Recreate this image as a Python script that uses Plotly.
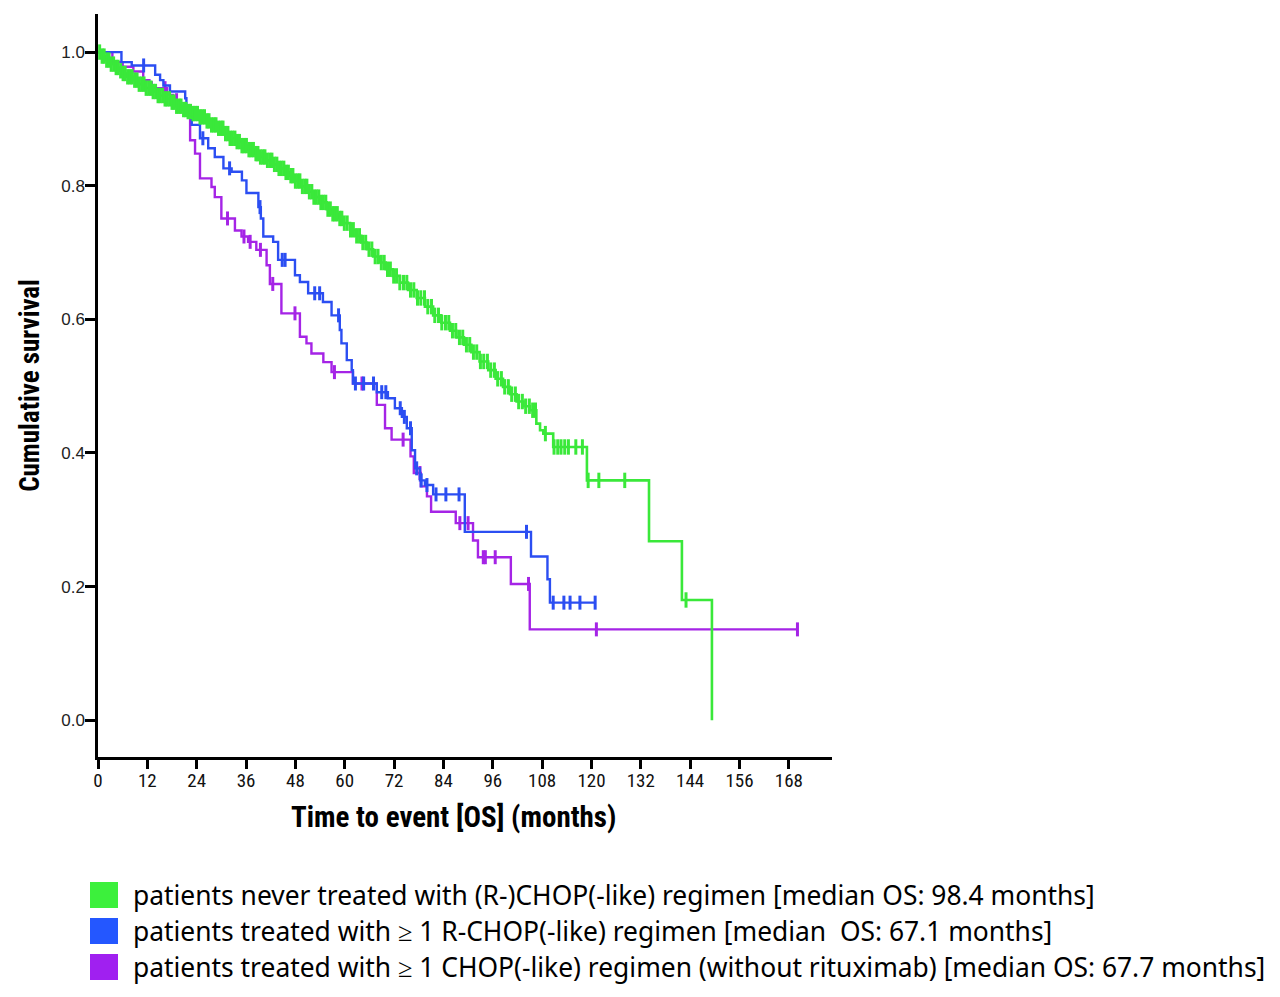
import numpy as np
import plotly.graph_objects as go

# ---------------- data ----------------
green_t = [1.0, 2.0, 3.0, 4.0, 5.0, 6.0, 7.0, 8.5, 10, 11.5, 13, 14.5, 16, 17.5, 19, 20.5, 21.6, 23, 24.5, 26,
           27.5, 29, 30.5, 32, 33.5, 35, 36.5, 38, 39.5, 41, 42.5, 44, 45.5, 46.7, 48, 49.5, 51, 52.5, 54, 55.6,
           57, 58.3, 59.6, 61.3, 62.6, 64, 65.4, 66.9, 68.4, 70, 71.7, 73.4, 75.4, 77.5, 79.5, 81.5, 83.5, 85.6,
           87.2, 89, 90.8, 92.8, 94.9, 96.7, 98.5, 100.2, 101.8, 103.5, 105, 106.6, 107.5, 108.3, 110.7, 118.9,
           134, 142, 149.3]
green_s = [0.994, 0.988, 0.982, 0.977, 0.972, 0.968, 0.963, 0.958, 0.952, 0.946, 0.941, 0.935, 0.930, 0.925,
           0.919, 0.914, 0.911, 0.908, 0.903, 0.897, 0.891, 0.886, 0.878, 0.871, 0.866, 0.860, 0.854, 0.848,
           0.843, 0.838, 0.832, 0.826, 0.820, 0.815, 0.807, 0.799, 0.791, 0.783, 0.775, 0.765, 0.758, 0.751,
           0.744, 0.734, 0.725, 0.715, 0.705, 0.694, 0.685, 0.675, 0.665, 0.655, 0.644, 0.632, 0.619, 0.606,
           0.595, 0.583, 0.573, 0.562, 0.551, 0.537, 0.524, 0.511, 0.499, 0.488, 0.477, 0.470, 0.464, 0.444,
           0.434, 0.429, 0.409, 0.359, 0.268, 0.180, 0.0]
green_end = 149.3
green_cens = [0.4, 1.0, 1.5, 2.1, 2.7, 3.2, 3.8, 4.4, 4.9, 5.5, 6.1, 6.6, 7.2, 7.8, 8.3, 8.9, 9.5, 10.0, 10.6,
              11.2, 11.7, 12.3, 12.9, 13.4, 14.0, 14.6, 15.1, 15.7, 16.3, 16.8, 17.4, 18.0, 18.5, 19.1, 19.7,
              20.2, 20.8, 21.4, 21.9, 22.5, 23.1, 23.6, 24.2, 24.8, 25.3, 25.9, 26.5, 27.0, 27.6, 28.2, 28.7,
              29.3, 29.9, 30.4, 31.0, 31.6, 32.1, 32.7, 33.3, 33.8, 34.4, 35.0, 35.5, 36.1, 36.7, 37.2, 37.8,
              38.4, 38.9, 39.5, 40.1, 40.6, 41.2, 41.8, 42.3, 42.9, 43.5, 44.0, 44.6, 45.2, 45.7, 46.3, 46.9,
              47.4, 48.0, 48.6, 49.1, 49.7, 50.3, 50.8, 51.4, 52.0, 52.5, 53.1, 53.7, 54.2, 54.8, 55.4, 55.9,
              56.5, 57.1, 57.6, 58.2, 58.8, 59.3, 59.9, 60.6, 61.4, 62.1, 62.9, 63.6, 64.4, 65.1, 65.9, 66.6,
              67.4, 68.1, 68.9, 69.6, 70.4, 71.1, 71.9, 72.6, 73.4, 74.3, 75.1, 76.0, 76.8, 77.7, 78.5, 79.4,
              80.2, 81.1, 81.9, 82.8, 83.6, 84.5, 85.3, 86.2, 87.0, 87.9, 88.7, 89.6, 90.4, 91.3, 92.1, 93.0,
              93.8, 94.7, 95.5, 96.4, 97.2, 98.1, 98.9, 99.8, 100.6, 101.5, 102.3, 103.2, 104.0, 104.9, 105.7,
              106.4, 108.8, 110.9, 111.8, 112.6, 113.5, 114.4, 116.2, 117.8, 119.2, 121.8, 128.1, 143.0]

blue_t = [5.7, 8.2, 13.9, 15.1, 15.9, 17.5, 21.2, 21.5, 22.8, 24.8, 26.8, 28.4, 30.5, 32.5, 35.0, 36.1, 39.0,
          39.6, 40.2, 42.6, 43.8, 47.9, 49.1, 51.1, 54.7, 56.8, 58.8, 59.2, 60.5, 61.7, 62.0, 67.8, 70.5, 72.2,
          73.9, 75.1, 76.3, 77.1, 78.3, 79.5, 81.5, 89.2, 105.3, 109.3, 109.9]
blue_s = [0.985, 0.980, 0.966, 0.958, 0.950, 0.941, 0.931, 0.913, 0.891, 0.871, 0.856, 0.843, 0.826, 0.821,
          0.808, 0.789, 0.768, 0.751, 0.724, 0.716, 0.689, 0.666, 0.656, 0.639, 0.626, 0.606, 0.584, 0.564,
          0.539, 0.524, 0.504, 0.491, 0.482, 0.467, 0.454, 0.437, 0.404, 0.377, 0.359, 0.352, 0.338, 0.282,
          0.245, 0.211, 0.176]
blue_end = 120.9
blue_cens = [11.1, 25.5, 32.0, 39.4, 44.8, 45.5, 52.7, 53.9, 58.5, 62.6, 64.6, 67.0, 69.0, 70.0, 73.5, 74.5,
             76.0, 77.5, 78.6, 80.0, 82.2, 84.6, 87.8, 104.2, 110.7, 113.3, 114.8, 117.2, 120.9]

purple_t = [3.5, 6.0, 8.6, 11.0, 12.5, 16.8, 18.3, 19.5, 21.5, 22.4, 23.6, 24.8, 27.6, 28.4, 30.0, 33.3, 34.9,
            36.5, 38.5, 41.0, 41.8, 44.6, 49.1, 50.7, 51.9, 54.8, 56.8, 62.0, 67.8, 69.8, 71.4, 76.0, 76.8,
            78.5, 80.0, 81.0, 87.0, 91.2, 92.4, 100.4, 105.0]
purple_s = [0.985, 0.978, 0.971, 0.958, 0.946, 0.936, 0.928, 0.918, 0.908, 0.868, 0.848, 0.811, 0.798, 0.783,
            0.751, 0.733, 0.724, 0.716, 0.704, 0.681, 0.653, 0.609, 0.574, 0.564, 0.549, 0.536, 0.521, 0.504,
            0.472, 0.437, 0.420, 0.395, 0.370, 0.350, 0.335, 0.312, 0.295, 0.269, 0.244, 0.204, 0.136]
purple_end = 170.1
purple_cens = [13.0, 16.3, 19.1, 31.5, 35.5, 37.0, 39.5, 42.5, 47.9, 57.5, 64.2, 74.2, 78.3, 88.0, 90.0, 93.7,
               94.2, 96.6, 104.7, 121.2, 170.1]

x_ticks = [0, 12, 24, 36, 48, 60, 72, 84, 96, 108, 120, 132, 144, 156, 168]
y_ticks = [0.0, 0.2, 0.4, 0.6, 0.8, 1.0]

x_title = "Time to event [OS] (months)"
y_title = "Cumulative survival"
labels = [
    "patients never treated with (R-)CHOP(-like) regimen [median OS: 98.4 months]",
    "patients treated with \u2265 1 R-CHOP(-like) regimen [median\u00a0 OS: 67.1 months]",
    "patients treated with \u2265 1 CHOP(-like) regimen (without rituximab) [median OS: 67.7 months]",
]

GREEN = "#3ae83a"
BLUE = "#2b4ef2"
PURPLE = "#a524e6"
SQ_COLORS = ["#3cf03c", "#2457ff", "#a020f0"]


def step_xy(times, surv, end):
    x = [0.0] + list(times)
    y = [1.0] + list(surv)
    if end > x[-1]:
        x.append(end)
        y.append(y[-1])
    return x, y


def cens_y(times, surv, cens):
    t = np.array(times)
    s = np.array(surv)
    out = []
    for c in cens:
        i = np.searchsorted(t, c, side="right") - 1
        out.append(1.0 if i < 0 else float(s[i]))
    return out


fig = go.Figure()
series = [
    (purple_t, purple_s, purple_end, purple_cens, PURPLE, 2.4, 10),
    (blue_t, blue_s, blue_end, blue_cens, BLUE, 2.4, 10),
    (green_t, green_s, green_end, green_cens, GREEN, 2.6, 11),
]
for t, s, end, cens, col, lw, ms in series:
    x, y = step_xy(t, s, end)
    fig.add_trace(go.Scatter(x=x, y=y, mode="lines", line=dict(color=col, width=lw, shape="hv"),
                             showlegend=False, hoverinfo="skip"))
    fig.add_trace(go.Scatter(x=cens, y=cens_y(t, s, cens), mode="markers",
                             marker=dict(symbol="line-ns", size=ms, line=dict(color=col, width=3)),
                             showlegend=False, hoverinfo="skip"))

COND = "Roboto Condensed, DejaVu Sans Condensed, Liberation Sans"
fig.update_layout(
    width=1264, height=981,
    margin=dict(l=90, r=440, t=6, b=232),
    paper_bgcolor="white", plot_bgcolor="white",
    xaxis=dict(range=[0, 178.5], tickvals=x_ticks, ticktext=[str(v) for v in x_ticks],
               showline=True, linecolor="black", linewidth=2.5, showgrid=False, zeroline=False,
               ticks="outside", ticklen=9, tickwidth=2.5, tickcolor="black",
               ticklabelstandoff=-5,
               tickfont=dict(family=COND, size=19, color="#111")),
    yaxis=dict(range=[-0.055, 1.057], tickvals=y_ticks, ticktext=["%.1f" % v for v in y_ticks],
               showline=True, linecolor="black", linewidth=2.5, showgrid=False, zeroline=False,
               ticks="outside", ticklen=10, tickwidth=2.5, tickcolor="black",
               ticklabelstandoff=-3,
               tickfont=dict(family="Liberation Sans", size=17, color="#222"),
               title=dict(text="<b>" + y_title + "</b>",
                          font=dict(family=COND, size=27, color="black"), standoff=14)),
)

# x-axis title placed to match the reference position
fig.add_annotation(xref="paper", yref="paper", x=(453 - 98) / 734, y=(757 - 817) / 743,
                   xanchor="center", yanchor="middle", showarrow=False, text="<b>" + x_title + "</b>",
                   font=dict(family=COND, size=29, color="black"))

# legend rows (custom squares + text)
row_py = [895, 931, 967]
for lab, col, py in zip(labels, SQ_COLORS, row_py):
    fig.add_shape(type="rect", xref="paper", yref="paper",
                  x0=(90 - 98) / 734, x1=(118 - 98) / 734,
                  y0=(757 - (py - 13)) / 743, y1=(757 - (py + 13)) / 743,
                  fillcolor=col, line=dict(width=0))
    fig.add_annotation(xref="paper", yref="paper", x=(131 - 98) / 734, y=(757 - py) / 743,
                       xanchor="left", yanchor="middle", showarrow=False, text=lab,
                       font=dict(family="Noto Sans", size=26.4, color="black"))

fig.write_html("out.html")
